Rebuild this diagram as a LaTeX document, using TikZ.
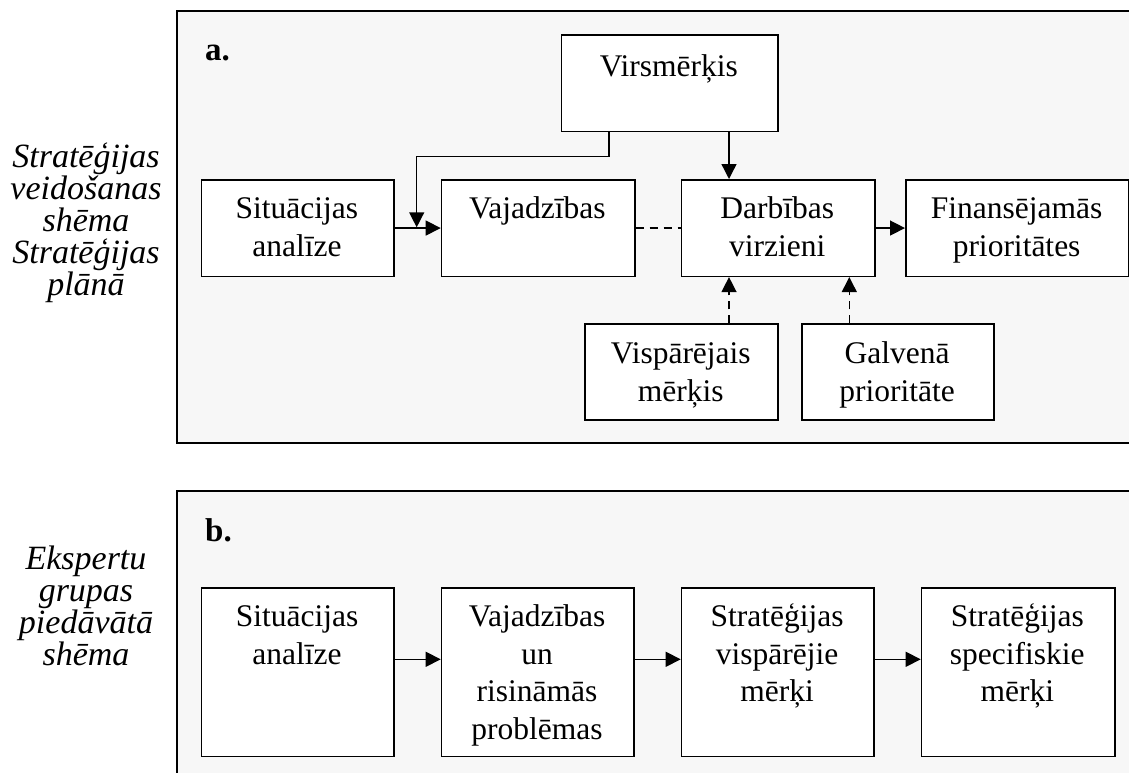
\documentclass[tikz,border=0pt]{standalone}
\usepackage{fontspec}
\setmainfont{Liberation Serif}
\usetikzlibrary{arrows.meta}
\definecolor{panelgray}{HTML}{F7F7F7}
% invisible strut that fixes the height of a text block's first line
\newcommand{\ascbox}{\rule{0pt}{24pt}}
\newcommand{\ascside}{\rule{0pt}{27pt}}
\tikzset{
  panel/.style={draw, line width=1.8pt, fill=panelgray},
  box/.style={draw, line width=1.6pt, fill=white, inner sep=0pt, anchor=north west},
  txt/.style={inner sep=0pt, anchor=north, align=center, font=\fontsize{31.5}{37.5}\selectfont},
  side/.style={inner sep=0pt, anchor=north, align=center, font=\fontsize{34}{32}\selectfont\itshape},
  tag/.style={inner sep=0pt, anchor=base west, font=\fontsize{33}{37.5}\selectfont\bfseries},
  flow/.style={line width=1.4pt, -{Triangle[length=15pt,width=15pt]}},
  dashflow/.style={flow, dash pattern=on 8pt off 6pt},
  dashlink/.style={line width=1.4pt, dash pattern=on 8pt off 6pt},
}
\begin{document}
\begin{tikzpicture}[x=1pt, y=-1pt]
\useasboundingbox (0,0) rectangle (1129,773);
\fill[white] (0,0) rectangle (1129,773);

% ---- side captions
\node[side] (capA) at (86,140) {\ascside Stratēģijas\\veidošanas\\shēma\\Stratēģijas\\plānā};
\node[side] (capB) at (86,542) {\ascside Ekspertu\\grupas\\piedāvātā\\shēma};

% ---- panel a
\draw[panel] (176.7,11) rectangle (1145,443.3);
\node[tag] (tagA) at (205,61) {a.};

\node[box, minimum width=216.3pt, minimum height=96.4pt] (vir) at (560.7,34.3) {};
\node[box, minimum width=192.6pt, minimum height=96.5pt] (sit) at (200.7,179) {};
\node[box, minimum width=193.3pt, minimum height=96.5pt] (vaj) at (440.7,179) {};
\node[box, minimum width=193.3pt, minimum height=96.5pt] (dar) at (680.7,179) {};
\node[box, minimum width=223.3pt, minimum height=96.5pt] (fin) at (905,179) {};
\node[box, minimum width=193pt, minimum height=95.7pt] (vis) at (584.3,323.3) {};
\node[box, minimum width=192.3pt, minimum height=95.7pt] (gal) at (801,323.3) {};

\node[txt] (vir-t) at (668.8,52) {\ascbox Virsmērķis};
\node[txt] (sit-t) at (296.9,194.3) {\ascbox Situācijas\\analīze};
\node[txt] (vaj-t) at (537.3,194.3) {\ascbox Vajadzības};
\node[txt] (dar-t) at (777.3,194.3) {\ascbox Darbības\\virzieni};
\node[txt] (fin-t) at (1016.6,194.3) {\ascbox Finansējamās\\prioritātes};
\node[txt] (vis-t) at (680.8,339.3) {\ascbox Vispārējais\\mērķis};
\node[txt] (gal-t) at (897.1,339.3) {\ascbox Galvenā\\prioritāte};

% connector columns and the joint on the first arrow
\coordinate (colA) at (729,0);
\coordinate (colB) at (849.3,0);
\coordinate (join) at (416.7,227.3);

\draw[flow] (sit.east) -- (vaj.west);
\draw[flow] ([xshift=48.3pt]vir.south west) -- ++(0,24.3) -| (join);
\draw[flow] (vir.south -| colA) -- (dar.north -| colA);
\draw[dashlink] (vaj.east) -- (dar.west);
\draw[flow] (dar.east) -- (fin.west);
\draw[dashflow] (vis.north -| colA) -- (dar.south -| colA);
\draw[dashflow] (gal.north -| colB) -- (dar.south -| colB);

% ---- panel b
\draw[panel] (176.7,491) rectangle (1145,790);
\node[tag] (tagB) at (205,541) {b.};

\node[box, minimum width=192.6pt, minimum height=168.4pt] (b1) at (200.7,587.3) {};
\node[box, minimum width=192.6pt, minimum height=168.4pt] (b2) at (440.7,587.3) {};
\node[box, minimum width=192.6pt, minimum height=168.4pt] (b3) at (680.7,587.3) {};
\node[box, minimum width=193.3pt, minimum height=168.4pt] (b4) at (920.7,587.3) {};

\node[txt] (b1-t) at (297,602.7) {\ascbox Situācijas\\analīze};
\node[txt] (b2-t) at (537,602.7) {\ascbox Vajadzības\\un\\risināmās\\problēmas};
\node[txt] (b3-t) at (777,602.7) {\ascbox Stratēģijas\\vispārējie\\mērķi};
\node[txt] (b4-t) at (1017.3,602.7) {\ascbox Stratēģijas\\specifiskie\\mērķi};

\coordinate (rowB) at (0,659.3);
\draw[flow] (b1.east |- rowB) -- (b2.west |- rowB);
\draw[flow] (b2.east |- rowB) -- (b3.west |- rowB);
\draw[flow] (b3.east |- rowB) -- (b4.west |- rowB);
\end{tikzpicture}
\end{document}
